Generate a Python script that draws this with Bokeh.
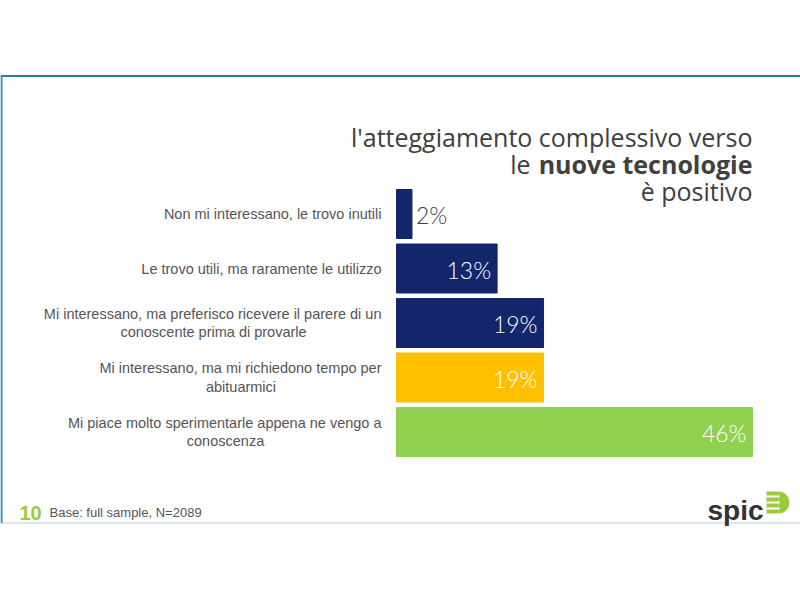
from bokeh.plotting import figure
from bokeh.models import Range1d, ColumnDataSource
from bokeh.core.properties import value
from bokeh.embed import file_html
from bokeh.resources import INLINE

# ---------------- data ----------------
categories = [
    "Non mi interessano, le trovo inutili",
    "Le trovo utili, ma raramente le utilizzo",
    "Mi interessano, ma preferisco ricevere il parere di un\nconoscente prima di provarle",
    "Mi interessano, ma mi richiedono tempo per\nabituarmici",
    "Mi piace molto sperimentarle appena ne vengo a\nconoscenza",
]
values = [2, 13, 19, 19, 46]
bar_colors = ["#13266B", "#13266B", "#13266B", "#FFC000", "#92D050"]
title_line1 = "l'atteggiamento complessivo verso"
title_line2_plain = "le"
title_line2_bold = "nuove tecnologie"
title_line3 = "è positivo"
page_number = "10"
base_note = "Base: full sample, N=2089"
brand = "spic"

# ---------------- layout (screen px of the 800x600 window) ----------------
W, H, OFF = 800, 600, 0
BAR_X0, BAR_X1 = 396, 752          # where 0 % and the max value land
ROW0_Y, ROW_STEP = 213.5, 54.5     # centre of first row, row spacing
PPU = (BAR_X1 - BAR_X0) / max(values)

def sx(X):
    return (X - BAR_X0) / PPU

def sy(Y):
    return (Y - ROW0_Y) / ROW_STEP

p = figure(width=W, height=H, output_backend="svg", toolbar_location=None,
           x_range=Range1d(sx(OFF), sx(OFF + W)),
           y_range=Range1d(start=sy(OFF + H), end=sy(OFF)),
           min_border=0, min_border_left=0, min_border_right=0,
           min_border_top=0, min_border_bottom=0)
p.xaxis.visible = False
p.yaxis.visible = False
p.grid.visible = False
p.outline_line_color = None
p.background_fill_color = "white"
p.border_fill_color = "white"

# ---------------- frame lines ----------------
p.segment(x0=[sx(0)], y0=[sy(75.5)], x1=[sx(800)], y1=[sy(75.5)],
          line_color="#2B7DA8", line_width=2)
p.segment(x0=[sx(0)], y0=[sy(522.5)], x1=[sx(800)], y1=[sy(522.5)],
          line_color="#CFE2EA", line_width=1.5)
p.segment(x0=[sx(1)], y0=[sy(75.5)], x1=[sx(1)], y1=[sy(522.5)],
          line_color="#2B8CC0", line_width=2)

# ---------------- bars ----------------
rows = list(range(len(values)))
src = ColumnDataSource(dict(row=rows, val=values, color=bar_colors))
p.hbar(y="row", left=0, right="val", height=49 / ROW_STEP, color="color", source=src)

inside = [i for i, v in enumerate(values) if v >= 5]
outside = [i for i, v in enumerate(values) if v < 5]
src_in = ColumnDataSource(dict(row=[rows[i] for i in inside], val=[values[i] for i in inside],
                               lab=[f"{values[i]}%" for i in inside]))
src_out = ColumnDataSource(dict(row=[rows[i] for i in outside], val=[values[i] for i in outside],
                                lab=[f"{values[i]}%" for i in outside]))
VAL_FONT = value("Lato Light, Liberation Sans")
p.text(x="val", y="row", text="lab", source=src_in, x_offset=-6, y_offset=1,
       text_align="right", text_baseline="middle", text_color="white",
       text_font=VAL_FONT, text_font_size="23px")
p.text(x="val", y="row", text="lab", source=src_out, x_offset=4, y_offset=1,
       text_align="left", text_baseline="middle", text_color="#404040",
       text_font=VAL_FONT, text_font_size="23px")

# ---------------- category labels ----------------
LABEL_RIGHT = 381
LINE_GAP = 18.5
block_centres = [None, None, 213, 240.5, 225]
for i, cat in enumerate(categories):
    lines = cat.split("\n")
    n = len(lines)
    for k, line in enumerate(lines):
        yy = rows[i] + (k - (n - 1) / 2) * LINE_GAP / ROW_STEP
        if k == 0:
            xx, al = sx(LABEL_RIGHT), "right"
        else:
            xx, al = sx(block_centres[i]), "center"
        p.text(x=[xx], y=[yy], text=[line], text_align=al, text_baseline="middle",
               text_color="#555555", text_font=value("Liberation Sans"),
               text_font_size="14.5px")

# ---------------- title ----------------
TITLE_RIGHT = 752
tkw = dict(text_baseline="alphabetic", text_color="#404040",
           text_font=value("Open Sans"), text_font_size="25px")
p.text(x=[sx(TITLE_RIGHT)], y=[sy(136)], text=[title_line1], text_align="right", **tkw)
p.text(x=[sx(TITLE_RIGHT)], y=[sy(163)], text=[title_line2_bold], text_align="right",
       text_font_style="bold", **tkw)
p.text(x=[sx(530)], y=[sy(163)], text=[title_line2_plain], text_align="right", **tkw)
p.text(x=[sx(TITLE_RIGHT)], y=[sy(190)], text=[title_line3], text_align="right", **tkw)

# ---------------- footer ----------------
p.text(x=[sx(19)], y=[sy(512)], text=[page_number], text_align="left",
       text_baseline="alphabetic", text_color="#9BCB3B", text_font_style="bold",
       text_font=value("Liberation Sans"), text_font_size="20px")
p.text(x=[sx(49)], y=[sy(512)], text=[base_note], text_align="left",
       text_baseline="alphabetic", text_color="#555555",
       text_font=value("Liberation Sans"), text_font_size="13px")

# ---------------- logo ----------------
p.text(x=[sx(707)], y=[sy(510)], text=[brand], text_align="left",
       text_baseline="alphabetic", text_color="#333333", text_font_style="bold",
       text_font=value("Liberation Sans"), text_font_size="28px")
p.rect(x=[sx(772)], y=[sy(502)], width=12, height=22, width_units="screen",
       height_units="screen", fill_color="#9BCB3B", line_color=None)
p.wedge(x=[sx(778)], y=[sy(502)], radius=11, radius_units="screen",
        start_angle=-1.5708, end_angle=1.5708, fill_color="#9BCB3B", line_color=None)
for yy in (496, 502, 508):
    p.segment(x0=[sx(766)], y0=[sy(yy)], x1=[sx(779)], y1=[sy(yy)],
              line_color="white", line_width=2)

open("out.html", "w").write(file_html(p, INLINE))
